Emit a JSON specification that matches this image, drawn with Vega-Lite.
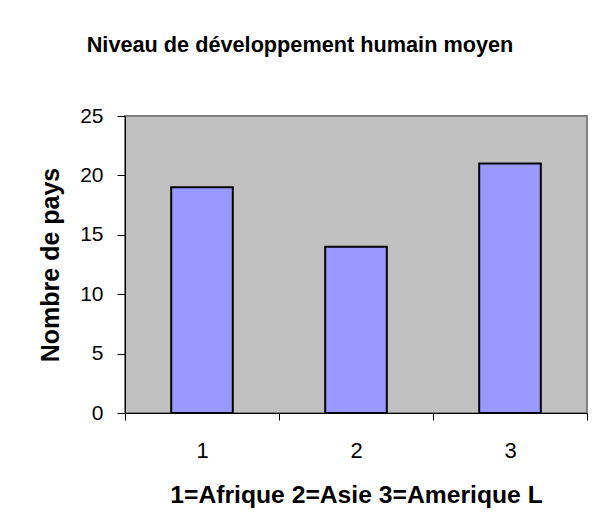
{
  "$schema": "https://vega.github.io/schema/vega-lite/v6.json",
  "width": 462,
  "height": 297,
  "autosize": {"type": "none"},
  "padding": {"left": 125, "top": 116, "right": 11, "bottom": 118},
  "background": "white",
  "config": {
    "font": "Liberation Sans",
    "view": {"fill": "#C0C0C0", "stroke": "#808080", "strokeWidth": 2}
  },
  "title": {
    "text": "Niveau de développement humain moyen",
    "font": "Liberation Sans",
    "fontSize": 21.7,
    "fontWeight": "bold",
    "color": "black",
    "anchor": "middle",
    "dx": -56,
    "baseline": "alphabetic",
    "offset": 31
  },
  "data": {
    "values": [
      {"region": "1", "pays": 19},
      {"region": "2", "pays": 14},
      {"region": "3", "pays": 21}
    ]
  },
  "mark": {"type": "bar", "color": "#9999FF", "stroke": "black", "strokeWidth": 2, "width": {"band": 0.4}},
  "encoding": {
    "x": {
      "field": "region",
      "type": "nominal",
      "scale": {"paddingInner": 0, "paddingOuter": 0},
      "axis": {
        "title": "1=Afrique 2=Asie 3=Amerique L",
        "titleFontSize": 24.7,
        "titleFontWeight": "bold",
        "titleColor": "black",
        "titlePadding": 21,
        "labelAngle": 0,
        "labelFontSize": 22,
        "labelColor": "black",
        "labelPadding": 20,
        "tickBand": "extent",
        "tickSize": 7,
        "tickColor": "black",
        "domainColor": "black",
        "domainWidth": 1
      }
    },
    "y": {
      "field": "pays",
      "type": "quantitative",
      "scale": {"domain": [0, 25]},
      "axis": {
        "title": "Nombre de pays",
        "titleFontSize": 25,
        "titleFontWeight": "bold",
        "titleColor": "black",
        "titlePadding": 16,
        "values": [0, 5, 10, 15, 20, 25],
        "grid": false,
        "labelFontSize": 21,
        "labelColor": "black",
        "labelPadding": 14,
        "tickSize": 8,
        "tickColor": "black",
        "domainColor": "black",
        "domainWidth": 1
      }
    }
  }
}
